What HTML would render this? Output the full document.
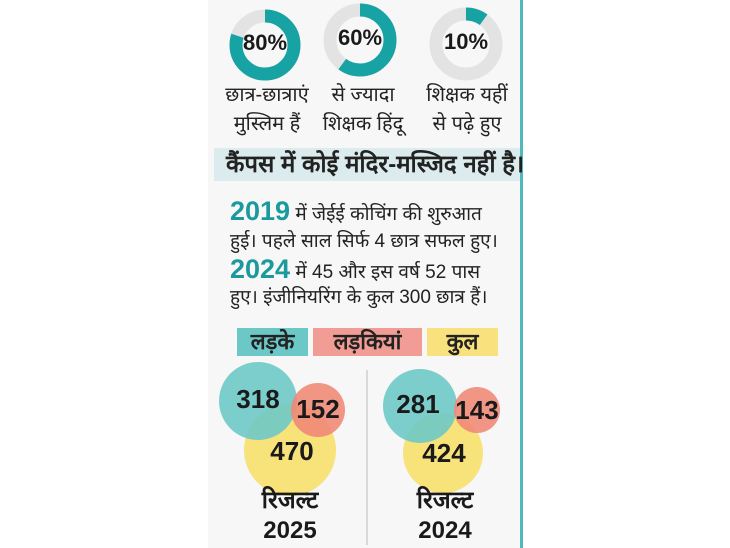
<!DOCTYPE html>
<html><head><meta charset="utf-8"><style>
body{margin:0;width:730px;height:548px;background:#fff;position:relative;overflow:hidden;font-family:"Liberation Sans","Noto Sans CJK SC",sans-serif}
.panel{position:absolute;left:208px;top:0;width:312px;height:548px;background:#f7f7f7;border-right:3px solid #4fb9bd}
.t{position:absolute;white-space:nowrap;color:#222}
.c{text-align:center}
.lab{font-size:20px;line-height:29px;width:110px}
.n{font-weight:bold;font-size:26px;color:#1a1a1a}
.p{font-size:19px;left:230px;width:280px}
.y{font-weight:bold;font-size:27px;color:#1b9a9e}
.lg{position:absolute;top:328px;height:28px;font-size:22px;font-weight:bold;line-height:28px;text-align:center;color:#222}
</style></head><body>
<div class="panel"></div>
<svg width="730" height="548" style="position:absolute;left:0;top:0">
<g fill="none" stroke-width="13">
<circle cx="265" cy="45" r="29" stroke="#e3e3e3"/>
<circle cx="265" cy="45" r="29" stroke="#17a2a4" stroke-dasharray="145.8 182.2" transform="rotate(-90 265 45)"/>
<circle cx="360" cy="40" r="30" stroke="#e3e3e3"/>
<circle cx="360" cy="40" r="30" stroke="#17a2a4" stroke-dasharray="113.1 188.5" transform="rotate(-90 360 40)"/>
<circle cx="466" cy="44" r="30" stroke="#e3e3e3"/>
<circle cx="466" cy="44" r="30" stroke="#17a2a4" stroke-dasharray="18.8 188.5" transform="rotate(-90 466 44)"/>
</g>
<rect x="214" y="148" width="306" height="33" fill="#dcecee"/>
<circle cx="290" cy="450" r="46" fill="#f8e27a"/>
<circle cx="258" cy="401" r="39" fill="#6ec9c6" opacity="0.9"/>
<circle cx="318" cy="410" r="27" fill="#ef8a78" opacity="0.9"/>
<circle cx="443" cy="453" r="40" fill="#f8e27a"/>
<circle cx="420" cy="406" r="37" fill="#6ec9c6" opacity="0.9"/>
<circle cx="477" cy="410" r="23" fill="#ef8a78" opacity="0.9"/>
<line x1="367" y1="370" x2="367" y2="545" stroke="#bbb" stroke-width="1"/>
</svg>
<div class="t n c" style="left:235px;top:30px;width:60px;font-size:22px">80%</div>
<div class="t n c" style="left:330px;top:25px;width:60px;font-size:22px">60%</div>
<div class="t n c" style="left:436px;top:29px;width:60px;font-size:22px">10%</div>
<div class="t lab c" style="left:212px;top:81px">छात्र-छात्राएं<br>मुस्लिम हैं</div>
<div class="t lab c" style="left:308px;top:81px">से ज्यादा<br>शिक्षक हिंदू</div>
<div class="t lab c" style="left:412px;top:81px">शिक्षक यहीं<br>से पढ़े हुए</div>
<div class="t" style="left:226px;top:150px;font-size:24px;font-weight:bold;line-height:30px">कैंपस में कोई मंदिर-मस्जिद नहीं है।</div>
<div class="t p" style="top:196px;line-height:30px"><span class="y">2019</span> में जेईई कोचिंग की शुरुआत</div>
<div class="t p" style="top:228px;line-height:28px">हुई। पहले साल सिर्फ 4 छात्र सफल हुए।</div>
<div class="t p" style="top:254px;line-height:30px"><span class="y">2024</span> में 45 और इस वर्ष 52 पास</div>
<div class="t p" style="top:284px;line-height:28px">हुए। इंजीनियरिंग के कुल 300 छात्र हैं।</div>
<div class="lg" style="left:237px;width:71px;background:#6cc7c7">लड़के</div>
<div class="lg" style="left:313px;width:109px;background:#f19c94">लड़कियां</div>
<div class="lg" style="left:427px;width:71px;background:#f9e27d">कुल</div>
<div class="t n c" style="left:228px;top:384px;width:60px">318</div>
<div class="t n c" style="left:290px;top:394px;width:56px">152</div>
<div class="t n c" style="left:262px;top:436px;width:60px">470</div>
<div class="t n c" style="left:388px;top:389px;width:60px">281</div>
<div class="t n c" style="left:449px;top:395px;width:56px">143</div>
<div class="t n c" style="left:414px;top:438px;width:60px">424</div>
<div class="t n c" style="left:240px;top:486px;width:100px;line-height:30px;font-size:24px">रिजल्ट<br>2025</div>
<div class="t n c" style="left:395px;top:486px;width:100px;line-height:30px;font-size:24px">रिजल्ट<br>2024</div>
</body></html>
